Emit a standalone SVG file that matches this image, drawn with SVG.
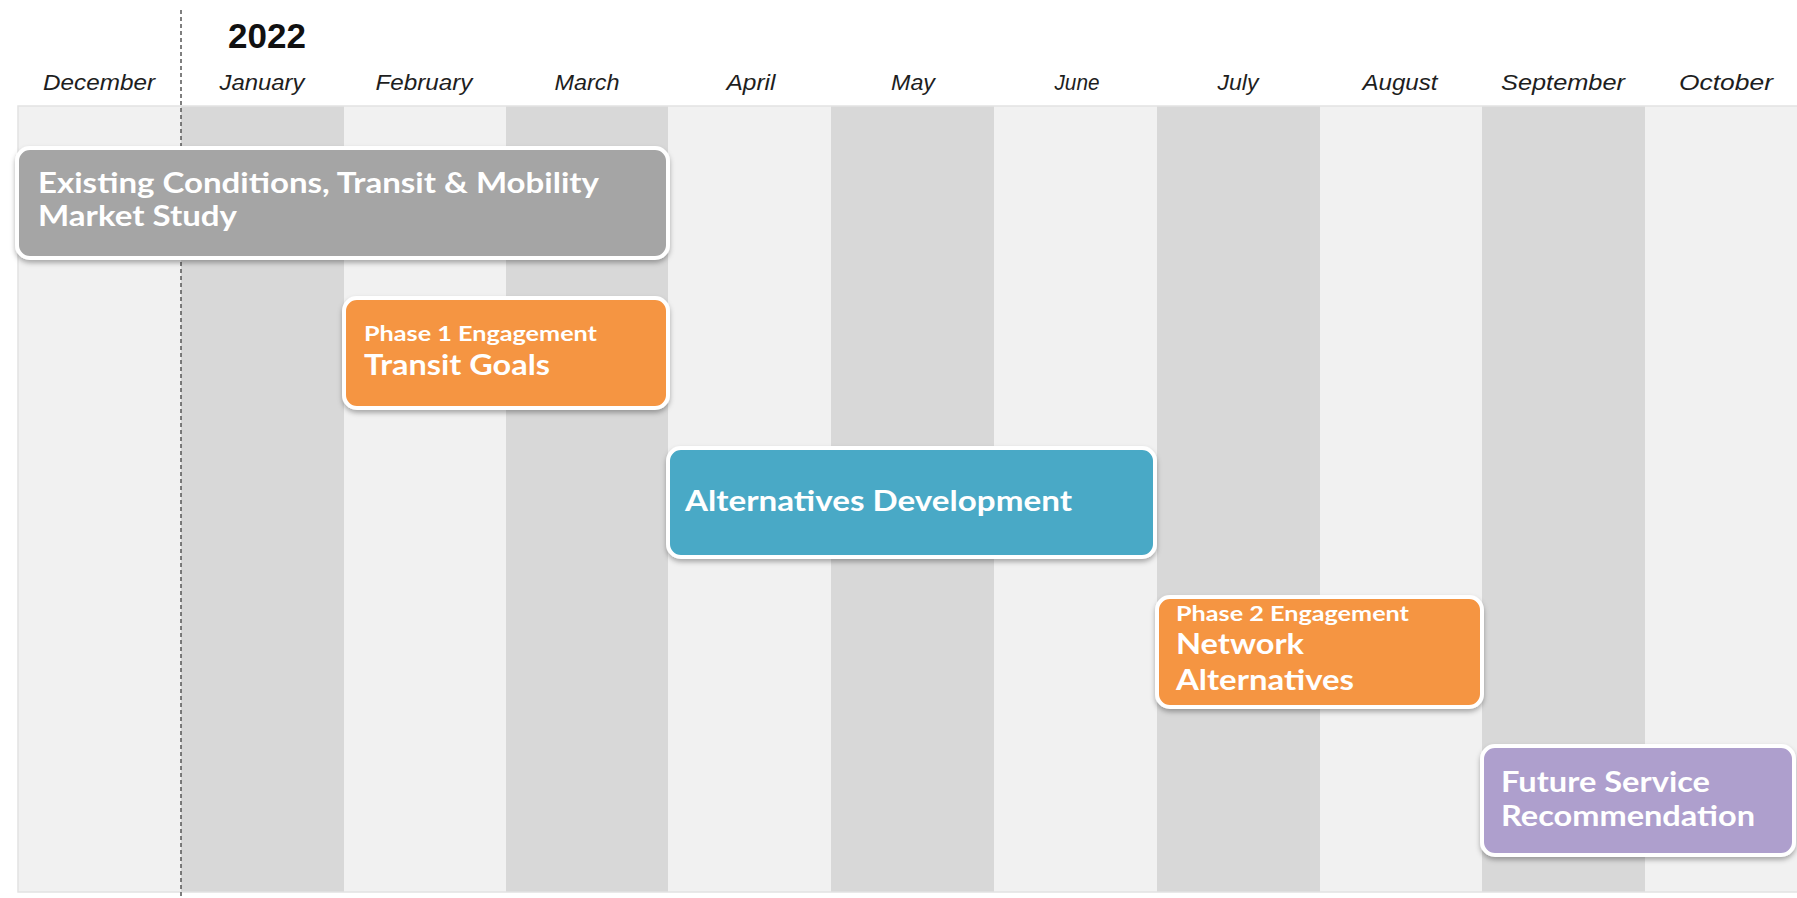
<svg xmlns="http://www.w3.org/2000/svg" width="1797" height="898" viewBox="0 0 1797 898">
  <defs>
    <style>
      .month { font-family: "Liberation Sans", Arial, sans-serif; font-style: italic; font-size: 22px; fill: #1e1e1e; text-anchor: middle; }
      .year { font-family: "Liberation Sans", Arial, sans-serif; font-weight: bold; font-size: 35px; fill: #111; }
      .col-light { fill: #f1f1f1; }
      .col-dark { fill: #d8d8d8; }
      .box { stroke: #ffffff; stroke-width: 4; filter: url(#shadow); }
      .lbl { font-family: Lato, "Noto Sans", sans-serif; font-weight: bold; fill: #ffffff; }
      .big { font-size: 29px; }
      .small { font-size: 21px; }
    </style>
    <filter id="shadow" x="-5%" y="-10%" width="110%" height="130%">
      <feDropShadow dx="0" dy="3" stdDeviation="2.5" flood-color="#000" flood-opacity="0.3"/>
    </filter>
  </defs>

  <rect x="0" y="0" width="1797" height="898" fill="#ffffff"/>

  <!-- month columns -->
  <g id="columns">
    <rect class="col-light" x="18" y="106" width="163" height="786"/>
    <rect class="col-dark" x="181" y="106" width="163" height="786"/>
    <rect class="col-light" x="344" y="106" width="162" height="786"/>
    <rect class="col-dark" x="506" y="106" width="162" height="786"/>
    <rect class="col-light" x="668" y="106" width="163" height="786"/>
    <rect class="col-dark" x="831" y="106" width="163" height="786"/>
    <rect class="col-light" x="994" y="106" width="163" height="786"/>
    <rect class="col-dark" x="1157" y="106" width="163" height="786"/>
    <rect class="col-light" x="1320" y="106" width="162" height="786"/>
    <rect class="col-dark" x="1482" y="106" width="163" height="786"/>
    <rect class="col-light" x="1645" y="106" width="152" height="786"/>
    <rect x="18" y="106" width="1790" height="786" fill="none" stroke="#e2e2e2" stroke-width="1.5"/>
  </g>

  <!-- header -->
  <g id="header">
    <text class="year" x="228" y="48">2022</text>
    <text class="month" x="99" y="90" textLength="112" lengthAdjust="spacingAndGlyphs">December</text>
    <text class="month" x="262" y="90" textLength="85" lengthAdjust="spacingAndGlyphs">January</text>
    <text class="month" x="424" y="90" textLength="97" lengthAdjust="spacingAndGlyphs">February</text>
    <text class="month" x="587" y="90" textLength="65" lengthAdjust="spacingAndGlyphs">March</text>
    <text class="month" x="751" y="90" textLength="49" lengthAdjust="spacingAndGlyphs">April</text>
    <text class="month" x="913" y="90" textLength="44" lengthAdjust="spacingAndGlyphs">May</text>
    <text class="month" x="1077" y="90" textLength="45" lengthAdjust="spacingAndGlyphs">June</text>
    <text class="month" x="1238" y="90" textLength="41" lengthAdjust="spacingAndGlyphs">July</text>
    <text class="month" x="1400" y="90" textLength="75" lengthAdjust="spacingAndGlyphs">August</text>
    <text class="month" x="1563" y="90" textLength="124" lengthAdjust="spacingAndGlyphs">September</text>
    <text class="month" x="1726" y="90" textLength="94" lengthAdjust="spacingAndGlyphs">October</text>
  </g>

  <!-- year boundary -->
  <g id="connectors">
    <line x1="181" y1="10" x2="181" y2="898" stroke="#555" stroke-width="1.5" stroke-dasharray="4 3"/>
  </g>

  <g id="existing-conditions">
    <rect class="box" x="17" y="148" width="651" height="110" rx="13" fill="#a5a5a5"/>
    <text class="lbl big" x="38" y="193" textLength="561" lengthAdjust="spacingAndGlyphs">Existing Conditions, Transit &amp; Mobility</text>
    <text class="lbl big" x="38" y="226" textLength="199" lengthAdjust="spacingAndGlyphs">Market Study</text>
  </g>

  <g id="phase1">
    <rect class="box" x="344" y="298" width="324" height="110" rx="13" fill="#f59542"/>
    <text class="lbl small" x="364" y="341" textLength="233" lengthAdjust="spacingAndGlyphs">Phase 1 Engagement</text>
    <text class="lbl big" x="364" y="375" textLength="186" lengthAdjust="spacingAndGlyphs">Transit Goals</text>
  </g>

  <g id="alternatives-development">
    <rect class="box" x="668" y="448" width="487" height="109" rx="13" fill="#48a9c6"/>
    <text class="lbl big" x="685" y="511" textLength="387" lengthAdjust="spacingAndGlyphs">Alternatives Development</text>
  </g>

  <g id="phase2">
    <rect class="box" x="1157" y="597" width="325" height="110" rx="13" fill="#f59542"/>
    <text class="lbl small" x="1176" y="621" textLength="233" lengthAdjust="spacingAndGlyphs">Phase 2 Engagement</text>
    <text class="lbl big" x="1176" y="654" textLength="128" lengthAdjust="spacingAndGlyphs">Network</text>
    <text class="lbl big" x="1176" y="690" textLength="178" lengthAdjust="spacingAndGlyphs">Alternatives</text>
  </g>

  <g id="future-service">
    <rect class="box" x="1482" y="746" width="312" height="109" rx="13" fill="#ae9fcd"/>
    <text class="lbl big" x="1501" y="792" textLength="209" lengthAdjust="spacingAndGlyphs">Future Service</text>
    <text class="lbl big" x="1501" y="826" textLength="254" lengthAdjust="spacingAndGlyphs">Recommendation</text>
  </g>
</svg>
